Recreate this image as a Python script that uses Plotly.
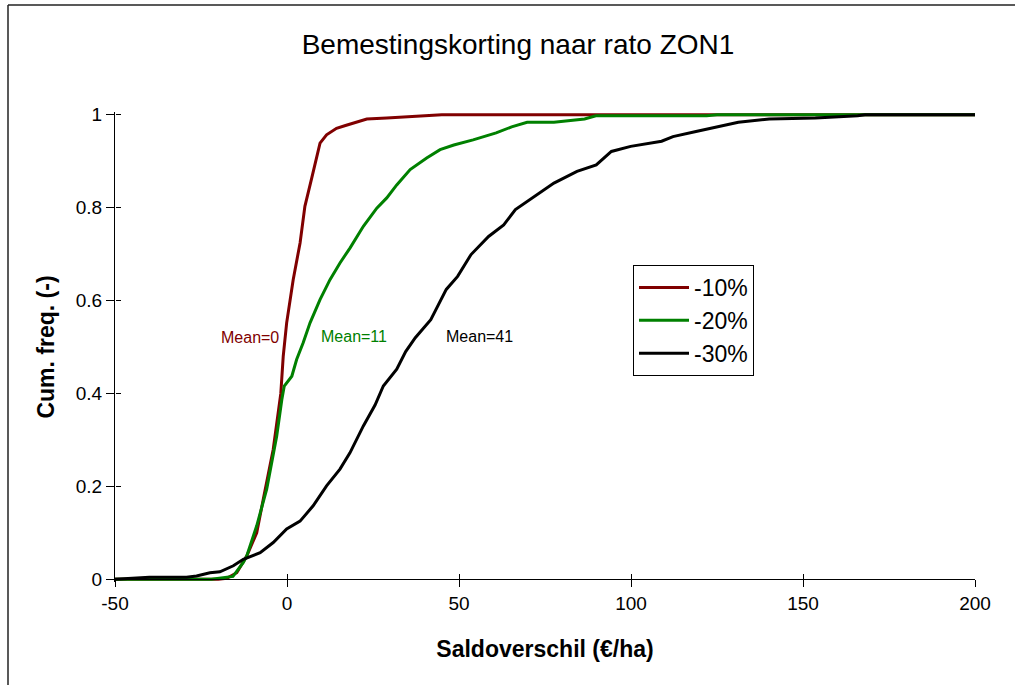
import plotly.graph_objects as go

# ---- data ----
series_names = ["-10%", "-20%", "-30%"]
series_colors = ["#800000", "#008000", "#000000"]

x_10 = [-50, -20, -17.5, -14.6, -11.7, -8.8, -6.9, -4.0, -1.8, -1.1, -0.1, 1.8, 3.8, 5.2,
        7.2, 9.6, 11.5, 14.4, 17.0, 20.3, 23.2, 29.0, 38.7, 45, 200]
y_10 = [0, 0, 0.002, 0.014, 0.05, 0.10, 0.172, 0.28, 0.40, 0.48, 0.552, 0.645, 0.724, 0.803,
        0.864, 0.939, 0.957, 0.971, 0.977, 0.984, 0.991, 0.993, 0.998, 1, 1]

x_20 = [-50, -22, -15.7, -12.7, -11.7, -8.8, -5.9, -3.0, -1.5, -0.8, 1.4, 2.8, 4.7, 6.7,
        9.6, 12.5, 15.4, 18.3, 22.2, 26.1, 29.0, 31.9, 35.8, 40.6, 44.5, 48.5, 54.1,
        60.8, 65.3, 69.8, 77.6, 86.5, 89.8, 122, 125, 200]
y_20 = [0, 0, 0.006, 0.036, 0.05, 0.115, 0.194, 0.308, 0.387, 0.416, 0.437, 0.473, 0.509, 0.552,
        0.602, 0.645, 0.681, 0.713, 0.760, 0.799, 0.821, 0.849, 0.882, 0.907, 0.925, 0.935, 0.946,
        0.961, 0.974, 0.984, 0.984, 0.991, 0.998, 0.998, 1, 1]

x_30 = [-50, -40, -29.2, -26.3, -22.4, -19.5, -15.6, -12.7, -7.8, -4.0, -0.1, 3.8, 7.6, 11.5,
        15.4, 18.3, 22.2, 25.6, 28.0, 31.9, 34.5, 37.3, 41.8, 46.3, 49.6, 53.5, 58.6, 63.0,
        66.4, 72.0, 77.6, 84.3, 89.9, 94.3, 99.9, 108.9, 112.2, 118.9, 125.6, 131.2, 140.2,
        153.6, 165.9, 168, 200]
y_30 = [0, 0.004, 0.004, 0.007, 0.014, 0.016, 0.029, 0.043, 0.057, 0.079, 0.108, 0.125, 0.158, 0.201,
        0.237, 0.272, 0.330, 0.375, 0.416, 0.452, 0.49, 0.520, 0.559, 0.624, 0.652, 0.699, 0.738, 0.763,
        0.796, 0.824, 0.853, 0.878, 0.892, 0.921, 0.932, 0.943, 0.953, 0.964, 0.975, 0.984, 0.991,
        0.993, 0.998, 1, 1]

mean_labels = ["Mean=0", "Mean=11", "Mean=41"]
mean_x = [-10.8, 19.6, 56.1]
mean_y = [0.52, 0.523, 0.523]

x_ticks = [-50, 0, 50, 100, 150, 200]
x_tick_text = ["-50", "0", "50", "100", "150", "200"]
y_ticks = [0, 0.2, 0.4, 0.6, 0.8, 1]
y_tick_text = ["0", "0.2", "0.4", "0.6", "0.8", "1"]

title_text = "Bemestingskorting naar rato ZON1"
x_title = "Saldoverschil (€/ha)"
y_title = "Cum. freq. (-)"

FONT = "Liberation Sans, Arial, sans-serif"
X_RANGE = [-50, 200]
Y_RANGE = [-0.006, 1.006]

fig = go.Figure()
for name, color, xs, ys in zip(series_names, series_colors, [x_10, x_20, x_30], [y_10, y_20, y_30]):
    fig.add_trace(go.Scatter(x=xs, y=ys, mode="lines", name=name, legendgroup=name,
                             line=dict(color=color, width=3)))

# dummy trace for overlay axes (inside tick marks -> crossing ticks)
fig.add_trace(go.Scatter(x=[None], y=[None], xaxis="x2", yaxis="y2", showlegend=False,
                         hoverinfo="skip"))

for txt, xv, yv, color in zip(mean_labels, mean_x, mean_y, series_colors):
    fig.add_annotation(x=xv, y=yv, text=txt, showarrow=False,
                       font=dict(family=FONT, size=16, color=color),
                       xanchor="center", yanchor="middle")

x_pos = (0 - Y_RANGE[0]) / (Y_RANGE[1] - Y_RANGE[0])

fig.update_layout(
    width=1015, height=685,
    margin=dict(l=115, r=40, t=112, b=103),
    paper_bgcolor="white", plot_bgcolor="white",
    font=dict(family=FONT, color="black"),
    title=dict(text=title_text, font=dict(family=FONT, size=28, color="black"),
               xref="paper", x=(518 - 115) / 860, xanchor="center",
               yref="container", y=1 - 44 / 685, yanchor="middle"),
    xaxis=dict(range=X_RANGE, tickvals=x_ticks, ticktext=x_tick_text, ticks="outside", ticklen=7,
               tickcolor="black",
               showline=True, linecolor="black", linewidth=1, showgrid=False, zeroline=False,
               anchor="free", position=x_pos,
               tickfont=dict(family=FONT, size=19, color="black"),
               title=dict(text="<b>" + x_title + "</b>", font=dict(family=FONT, size=23, color="black"),
                          standoff=27)),
    yaxis=dict(range=Y_RANGE, tickvals=y_ticks, ticktext=y_tick_text, ticks="outside", ticklen=8,
               tickcolor="black", showline=True, linecolor="black", linewidth=1, showgrid=False,
               zeroline=False,
               tickfont=dict(family=FONT, size=19, color="black"),
               title=dict(text="<b>" + y_title + "</b>", font=dict(family=FONT, size=23, color="black"),
                          standoff=14)),
    xaxis2=dict(range=X_RANGE, tickvals=x_ticks, ticks="inside", ticklen=5, tickcolor="black",
                showticklabels=False, showline=False, showgrid=False, zeroline=False,
                overlaying="x", anchor="free", position=x_pos),
    yaxis2=dict(range=Y_RANGE, tickvals=y_ticks, ticks="inside", ticklen=5, tickcolor="black",
                showticklabels=False, showline=False, showgrid=False, zeroline=False,
                overlaying="y", anchor="free", position=0),
    legend=dict(x=(633 - 115) / 860, y=(582 - 265) / 470, xanchor="left", yanchor="top",
                bgcolor="white", bordercolor="black", borderwidth=1,
                font=dict(family=FONT, size=23, color="black"),
                itemwidth=50,
                tracegroupgap=5, traceorder="normal"),
    showlegend=True,
)

# outer chart frame (only left and top edges fall inside the picture)
frame_left = (8 - 115) / 860
frame_top = (582 - 5) / 470
fig.add_shape(type="line", xref="paper", yref="paper",
              x0=frame_left, x1=frame_left, y0=-0.4, y1=frame_top,
              line=dict(color="#222222", width=1.5), layer="below")
fig.add_shape(type="line", xref="paper", yref="paper",
              x0=frame_left, x1=1.3, y0=frame_top, y1=frame_top,
              line=dict(color="#222222", width=1.5), layer="below")

fig.write_html("out.html")
